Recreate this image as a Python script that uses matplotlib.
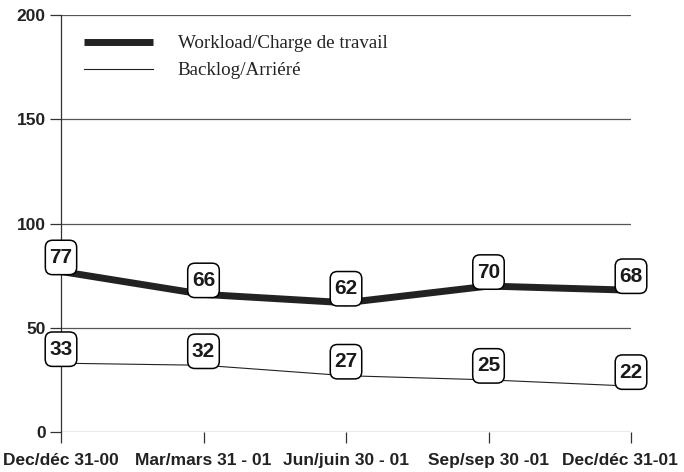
import matplotlib
matplotlib.use("Agg")
import matplotlib.pyplot as plt
from matplotlib.patches import BoxStyle

categories = ["Dec/déc 31-00", "Mar/mars 31 - 01", "Jun/juin 30 - 01", "Sep/sep 30 -01", "Dec/déc 31-01"]
workload = [77, 66, 62, 70, 68]
backlog = [33, 32, 27, 25, 22]
yticks = [0, 50, 100, 150, 200]


class TallRound(BoxStyle.Round):
    def __call__(self, x0, y0, width, height, mutation_size):
        extra = 0.17 * mutation_size
        return super().__call__(x0, y0 - extra, width, height + 2 * extra, mutation_size)


fig = plt.figure(figsize=(6.84, 4.72), dpi=100)
ax = fig.add_axes([61/684, 40/472, 570/684, 417/472])

x = list(range(len(categories)))
ax.plot(x, workload, color="#222222", lw=5, solid_capstyle="butt", label="Workload/Charge de travail", zorder=3)
ax.plot(x, backlog, color="#222222", lw=0.8, label="Backlog/Arriéré", zorder=3)

for series in (workload, backlog):
    for xi, v in zip(x, series):
        ax.annotate(str(v), (xi, v), xytext=(0, 16), textcoords="offset pixels",
                    ha="center", va="center_baseline", fontsize=15, fontweight="bold",
                    family="Liberation Sans", color="#1a1a1a", zorder=5,
                    bbox=dict(boxstyle=TallRound(pad=0.2, rounding_size=0.35),
                              fc="white", ec="black", lw=1.1))

ax.set_xlim(0, len(categories) - 1)
ax.set_ylim(0, 200)
ax.set_yticks(yticks)
ax.set_xticks(x)
ax.set_xticklabels([""] * len(categories))
xshift = [0, 0, 0, 0, -11]
for xi, lab, dx in zip(x, categories, xshift):
    ax.annotate(lab, (xi, 0), xycoords=("data", "axes fraction"), xytext=(dx, -21),
                textcoords="offset pixels", ha="center", va="top", fontsize=12.5,
                fontweight="bold", family="Liberation Sans", color="#222222", annotation_clip=False)
ax.set_yticklabels([str(t) for t in yticks], fontsize=12.5, fontweight="bold", family="Liberation Sans", color="#222222")
for g in yticks:
    ax.axhline(g, color="#555555", lw=0.9, zorder=1)

for s in ["top", "right", "bottom"]:
    ax.spines[s].set_visible(False)
ax.spines["left"].set_color("#333333")
ax.spines["left"].set_linewidth(0.9)
ax.tick_params(axis="x", direction="out", length=8, width=0.9, color="#333333", pad=4)
ax.tick_params(axis="y", direction="out", length=8, width=0.9, color="#333333", pad=3)

leg = ax.legend(loc="upper left", bbox_to_anchor=(0.011, 0.993), frameon=False,
                prop={"family": "Liberation Serif", "size": 13.7}, handlelength=3.6, handletextpad=1.3,
                labelspacing=0.5)
for t in leg.get_texts():
    t.set_color("#222222")

fig.savefig("out.png", dpi=100)
